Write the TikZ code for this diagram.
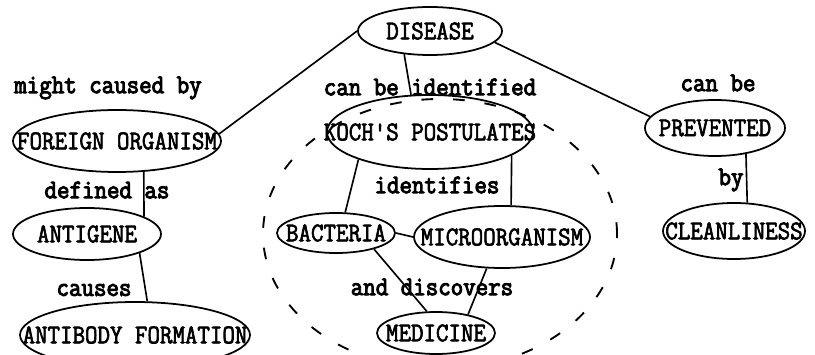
\documentclass[tikz,border=0pt]{standalone}
\usepackage{fontspec}
\usepackage{tikz}
\usetikzlibrary{shapes.geometric}

\newfontfamily\conceptfont[FakeStretch=0.9,FakeBold=2.4]{Latin Modern Mono}
\newfontfamily\linkfont[FakeStretch=0.9,FakeBold=3.6]{Latin Modern Mono}

\begin{document}
\begin{tikzpicture}[
    concept/.style={ellipse, draw, line width=1.5pt, inner sep=0pt,
      font=\conceptfont\fontsize{23}{23}\selectfont,
      execute at begin node={\hbox to 0pt\bgroup\hss},
      execute at end node={\hss\egroup}},
    link/.style={inner sep=0pt, font=\linkfont\fontsize{23}{23}\selectfont},
    conn/.style={line width=1.4pt},
    group/.style={line width=1.6pt, dash pattern=on 10pt off 17pt}
  ]
  \useasboundingbox (0,0) rectangle (24.45,10.62);

  % Concepts
  \node[concept, minimum width=4.32cm, minimum height=1.44cm] (disease) at (12.90,9.69) {DISEASE};
  \node[concept, minimum width=6.24cm, minimum height=1.86cm] (foreign) at (3.51,6.39) {FOREIGN ORGANISM};
  \node[concept, minimum width=6.18cm, minimum height=2.22cm] (koch) at (12.90,6.66) {KOCH'S POSTULATES};
  \node[concept, minimum width=4.20cm, minimum height=1.68cm] (prevented) at (21.45,6.78) {PREVENTED};
  \node[concept, minimum width=4.26cm, minimum height=1.68cm] (cleanliness) at (22.02,3.69) {CLEANLINESS};
  \node[concept, minimum width=4.44cm, minimum height=1.56cm] (antigene) at (2.61,3.60) {ANTIGENE};
  \node[concept, minimum width=3.54cm, minimum height=1.20cm] (bacteria) at (10.08,3.63) {BACTERIA};
  \node[concept, minimum width=5.28cm, minimum height=1.86cm] (micro) at (15.06,3.51) {MICROORGANISM};
  \node[concept, minimum width=3.54cm, minimum height=1.26cm] (medicine) at (13.08,0.63) {MEDICINE};
  \node[concept, minimum width=6.90cm, minimum height=1.98cm] (antibody) at (4.05,0.57) {ANTIBODY FORMATION};

  % Linking words
  \node[link] (lcaused) at (3.24,7.98) {might caused by};
  \node[link] (lident) at (12.90,8.01) {can be identified};
  \node[link] (lcanbe) at (21.54,8.13) {can be};
  \node[link] (lby) at (21.93,5.22) {by};
  \node[link] (ldefined) at (3.21,4.92) {defined as};
  \node[link] (lidents) at (13.11,5.07) {identifies};
  \node[link] (lcauses) at (2.82,1.92) {causes};
  \node[link] (ldisc) at (12.96,2.01) {and discovers};

  % Connectors
  \draw[conn] (disease.west) -- (foreign.4);
  \draw[conn] (disease.222) -- (koch.117);
  \draw[conn] (disease.350) -- (prevented.170);
  \draw[conn] (prevented.320) -- (cleanliness.65);
  \draw[conn] (foreign.311) -- (antigene.17);
  \draw[conn] (antigene.340) -- (antibody.70);
  \draw[conn] (koch.201) -- (bacteria.66);
  \draw[conn] (koch.344) -- (micro.74);
  \draw[conn] (bacteria.east) -- (micro.west);
  \draw[conn] (bacteria.337) -- (medicine.113);
  \draw[conn] (micro.244) -- (medicine.30);

  % Dashed grouping round Koch's postulates
  \draw[group] (13.2,3.6) ellipse (5.31 and 4.05);
\end{tikzpicture}
\end{document}
